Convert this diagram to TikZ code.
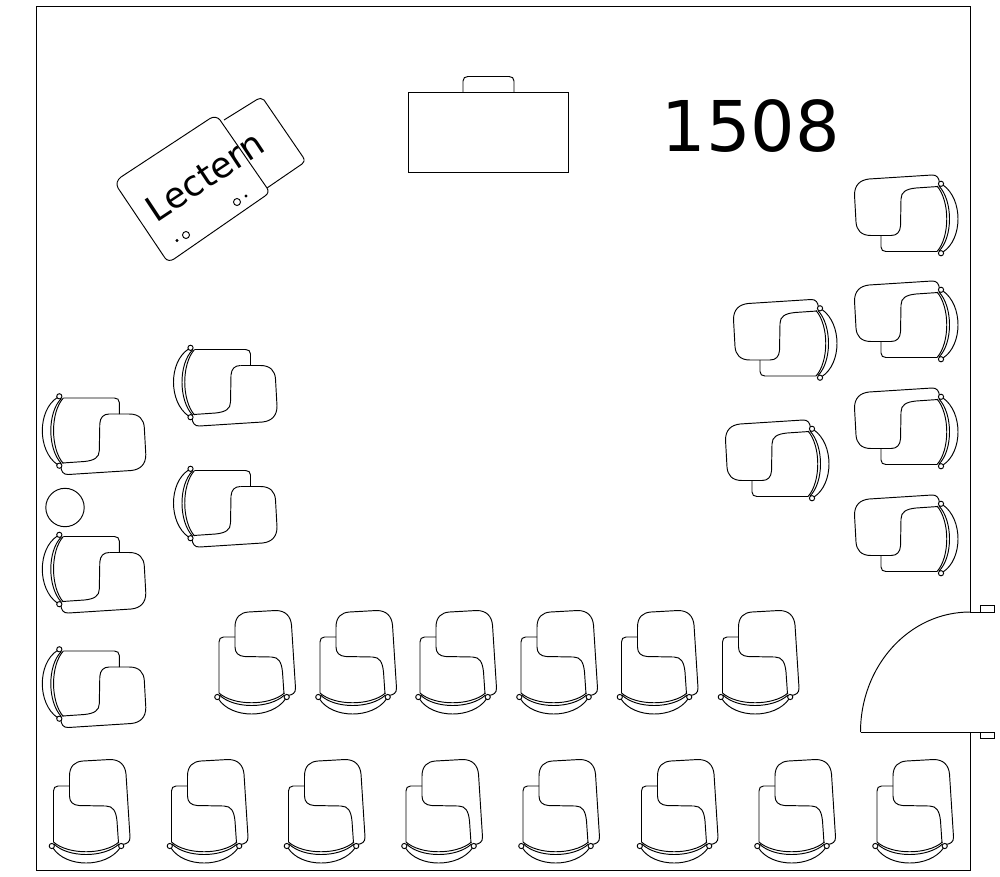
\documentclass[tikz,border=0pt]{standalone}
\usepackage{fontspec}
\setmainfont{DejaVu Sans}
\tikzset{
  chair/.pic={
    % seat
    \draw (-16.5,-50)--(-16.5,-70) .. controls (-16.5,-80) and (-11,-84.5) .. (-3,-85)
      --(24,-86.5) .. controls (34,-86.5) and (39,-81) .. (40,-72)
      --(44,-9) .. controls (44.2,-4) and (41,-2) .. (36,-1.5);
    \draw (32.5,-3)--(31,-25) .. controls (30,-35) and (27,-40) .. (20,-40)
      --(-7,-40.5) .. controls (-13,-41) and (-16.5,-44) .. (-16.5,-50);
    % arm and back
    \draw (-16.5,-60)--(-28,-60) .. controls (-31,-60) and (-32.5,-58) .. (-32.5,-55)
      --(-32.5,-4);
    \draw (-32.5,-4) .. controls (-18,9) and (18,9) .. (33,-4);
    \draw (-32,-2) .. controls (-18,12) and (18,12) .. (33,-2);
    \draw (-33,2) .. controls (-20,22) and (20,22) .. (34,2);
    \draw[fill=white] (-34.2,0) circle (2.6);
    \draw[fill=white] (35.2,0) circle (2.6);
  }
}
\begin{document}
\begin{tikzpicture}[x=1pt,y=-1pt,line width=0.95pt]
\useasboundingbox (0,0) rectangle (1000,876);
% room
\draw (970,612)--(970,6.8)--(36.8,6.8)--(36.8,870)--(970,870)--(970,732);
% door
\draw (860.5,732)--(994,732);
\draw (970,612)--(994,612);
\draw (860.5,732) .. controls (860.5,666) and (909,612) .. (970,612);
\draw (980,605) rectangle (994,612);
\draw (980,732) rectangle (994,738.5);
% screen
\draw (408.5,92) rectangle (568.8,172.5);
\draw (463,92)--(463,81) .. controls (463,78) and (465,76.5) .. (468,76.5)
  --(509,76.5) .. controls (512,76.5) and (514,78) .. (514,81)--(514,92);
\node at (751,126.5) {\fontsize{70}{80}\selectfont 1508};
% lectern
\draw (224,120)--(257,99.5) .. controls (259,98) and (262,98) .. (264,100)
  --(303,157) .. controls (305,160) and (304,163) .. (302,164)--(267,188);
\draw (121,177)--(210,118.5) .. controls (213,116.5) and (218,117) .. (220,120)
  --(267,188) .. controls (269,191) and (268,194) .. (265,196)
  --(174,259) .. controls (171,261) and (167,261) .. (165,258)
  --(118,188) .. controls (116,184) and (117,180) .. (121,177);
\node[anchor=base,rotate=33.5] at (212,186.5) {\fontsize{35.5}{42}\selectfont Lectern};
\draw (186,235) circle (3.5);
\draw[fill=black] (177,240.5) circle (1);
\draw (237,202) circle (3.5);
\draw[fill=black] (246,196) circle (1);
% waste bin
\draw (65,507.5) circle (19.2);
% chairs, left wall
\pic[rotate=-90] at (59.3,430.5) {chair};
\pic[rotate=-90] at (59.3,569) {chair};
\pic[rotate=-90] at (59.3,683.5) {chair};
\pic[rotate=-90] at (190.5,382) {chair};
\pic[rotate=-90] at (190.5,503) {chair};
% chairs, right wall
\pic[rotate=90] at (941,219) {chair};
\pic[rotate=90] at (941,325) {chair};
\pic[rotate=90] at (941,432) {chair};
\pic[rotate=90] at (941,539) {chair};
\pic[rotate=90] at (820,343.5) {chair};
\pic[rotate=90] at (812,464) {chair};
% chairs, front row
\pic at (251.5,697) {chair};
\pic at (352.5,697) {chair};
\pic at (452.5,697) {chair};
\pic at (553.5,697) {chair};
\pic at (654,697) {chair};
\pic at (755,697) {chair};
% chairs, back row
\pic at (86,846) {chair};
\pic at (204,846) {chair};
\pic at (321,846) {chair};
\pic at (438.5,846) {chair};
\pic at (555.5,846) {chair};
\pic at (674,846) {chair};
\pic at (791.5,846) {chair};
\pic at (909.5,846) {chair};
\end{tikzpicture}
\end{document}
